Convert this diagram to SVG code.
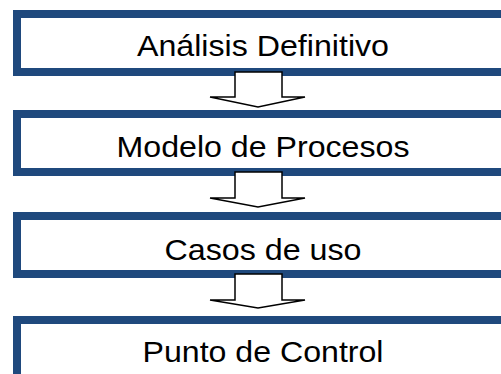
<svg xmlns="http://www.w3.org/2000/svg" width="501" height="374" viewBox="0 0 501 374">
  <style>
    .box { fill: #ffffff; stroke: #1f497d; stroke-width: 8; }
    .label { font-family: "Liberation Sans", Arial, sans-serif; font-size: 30px; fill: #000000; text-anchor: middle; }
    .arrow { fill: #ffffff; stroke: #000000; stroke-width: 1.5; stroke-linejoin: miter; }
  </style>
  <rect width="501" height="374" fill="#ffffff"/>

  <g id="analisis-definitivo">
    <rect class="box" x="17" y="14" width="510" height="58"/>
    <text class="label" x="263" y="56" textLength="252" lengthAdjust="spacingAndGlyphs">Análisis Definitivo</text>
  </g>

  <g id="modelo-de-procesos">
    <rect class="box" x="17" y="114" width="510" height="58"/>
    <text class="label" x="263" y="157" textLength="293" lengthAdjust="spacingAndGlyphs">Modelo de Procesos</text>
  </g>

  <g id="casos-de-uso">
    <rect class="box" x="17" y="216" width="510" height="58"/>
    <text class="label" x="263" y="260" textLength="197" lengthAdjust="spacingAndGlyphs">Casos de uso</text>
  </g>

  <g id="punto-de-control">
    <rect class="box" x="17" y="320" width="510" height="80"/>
    <text class="label" x="263" y="362" textLength="241" lengthAdjust="spacingAndGlyphs">Punto de Control</text>
  </g>

  <g id="connectors">
    <polygon class="arrow" points="235,72 282,72 282,97 305,97 258,107 210,97 235,97"/>
    <polygon class="arrow" points="235,172 282,172 282,198 305,198 258,207 210,198 235,198"/>
    <polygon class="arrow" points="235,274 282,274 282,300 305,300 258,308 210,300 235,300"/>
  </g>
</svg>
